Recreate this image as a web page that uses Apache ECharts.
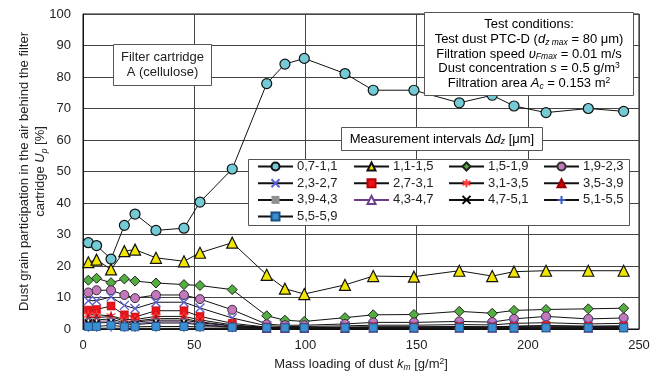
<!DOCTYPE html>
<html>
<head>
<meta charset="utf-8">
<script src="https://cdn.jsdelivr.net/npm/echarts@6/dist/echarts.min.js"></script>
<style>
  html, body { margin: 0; padding: 0; background: #fff; }
  #chart { width: 656px; height: 377px; }
</style>
</head>
<body>
<div id="chart"></div>
<script>
// Mass loading of dust k_m [g/m2] at each measurement
const massLoading = [2.4, 6.1, 12.6, 18.6, 23.4, 32.8, 45.4, 52.6, 67.1, 82.6, 90.8, 99.5, 117.8, 130.5, 148.8, 169.2, 184.0, 193.8, 208.2, 227.2, 243.1];

// Particle size intervals [um]
const intervalNames = ['0,7-1,1', '1,1-1,5', '1,5-1,9', '1,9-2,3', '2,3-2,7', '2,7-3,1', '3,1-3,5', '3,5-3,9', '3,9-4,3', '4,3-4,7', '4,7-5,1', '5,1-5,5', '5,5-5,9'];

// Share U_p [%] of each interval behind the filter
const up_07_11 = [27.4, 26.5, 22.2, 32.9, 36.5, 31.3, 32.0, 40.3, 50.8, 77.9, 84.1, 85.9, 81.1, 75.8, 75.8, 71.8, 74.2, 70.8, 68.7, 70.0, 69.1];
const up_11_15 = [21.2, 22.0, 18.9, 24.7, 25.2, 22.6, 21.5, 24.2, 27.4, 17.2, 12.8, 11.1, 14.0, 16.8, 16.6, 18.5, 16.8, 18.2, 18.5, 18.5, 18.5];
const up_15_19 = [15.5, 16.1, 14.7, 15.9, 15.2, 14.6, 14.1, 13.8, 12.5, 4.2, 2.8, 2.4, 3.6, 4.5, 4.6, 5.6, 5.0, 5.9, 6.2, 6.4, 6.6];
const up_19_23 = [11.6, 12.3, 12.3, 10.8, 9.8, 10.8, 10.8, 9.5, 6.1, 1.5, 1.2, 1.2, 1.6, 2.1, 2.1, 2.4, 2.2, 3.2, 4.0, 3.2, 3.5];
const up_23_27 = [9.0, 9.0, 10.2, 7.5, 6.5, 8.5, 8.5, 6.7, 3.5, 1.0, 0.8, 0.8, 1.0, 1.2, 1.2, 1.4, 1.3, 1.8, 2.0, 1.6, 1.8];
const up_27_31 = [6.0, 6.2, 7.3, 4.5, 3.8, 5.8, 5.8, 4.0, 1.8, 0.6, 0.5, 0.5, 0.6, 0.7, 0.7, 0.8, 0.7, 0.9, 1.1, 0.9, 1.0];
const up_31_35 = [4.5, 4.5, 4.2, 3.0, 3.0, 4.0, 4.0, 2.9, 1.3, 0.5, 0.4, 0.4, 0.5, 0.6, 0.6, 0.7, 0.6, 0.8, 1.0, 0.8, 0.9];
const up_35_39 = [3.6, 3.6, 4.0, 2.4, 2.5, 3.3, 3.3, 2.3, 1.0, 0.4, 0.3, 0.3, 0.4, 0.5, 0.5, 0.5, 0.5, 0.6, 0.7, 0.6, 0.7];
const up_39_43 = [2.9, 2.9, 3.2, 2.0, 2.2, 2.8, 2.8, 2.0, 0.9, 0.3, 0.3, 0.3, 0.3, 0.4, 0.4, 0.4, 0.4, 0.5, 0.6, 0.5, 0.5];
const up_43_47 = [2.4, 2.4, 2.6, 1.6, 1.7, 2.3, 2.3, 1.5, 0.7, 0.2, 0.2, 0.2, 0.2, 0.3, 0.3, 0.3, 0.3, 0.3, 0.4, 0.3, 0.4];
const up_47_51 = [1.9, 1.9, 2.1, 1.3, 1.4, 1.9, 1.9, 1.3, 0.5, 0.2, 0.2, 0.2, 0.2, 0.2, 0.2, 0.2, 0.2, 0.2, 0.3, 0.2, 0.3];
const up_51_55 = [0.2, 0.2, 0.3, 0.2, 0.2, 0.2, 0.2, 0.2, 0.1, 0.1, 0.1, 0.1, 0.1, 0.1, 0.1, 0.1, 0.1, 0.1, 0.1, 0.1, 0.1];
const up_55_59 = [0.8, 0.8, 1.2, 0.7, 0.7, 0.8, 0.8, 0.7, 0.6, 0.4, 0.4, 0.4, 0.4, 0.4, 0.4, 0.4, 0.4, 0.4, 0.4, 0.4, 0.4];

const seriesValues = [up_07_11, up_11_15, up_15_19, up_19_23, up_23_27, up_27_31, up_31_35, up_35_39, up_39_43, up_43_47, up_47_51, up_51_55, up_55_59];

const FONT = '"Liberation Sans", Arial, sans-serif';

// Stroked marker shapes
const X_PATH = 'path://M0,0L10,10M10,0L0,10';
const PLUS_PATH = 'path://M5,0L5,10M0,5L10,5';
const STAR_PATH = 'path://M5,0L5,10M0.7,2.5L9.3,7.5M0.7,7.5L9.3,2.5';

// Marker look per interval
const markerStyles = [
  { symbol: 'circle', size: 10, color: '#74cbd5', border: '#111', bw: 1.2 },
  { symbol: 'triangle', size: 11, color: '#f2e500', border: '#111', bw: 1.2 },
  { symbol: 'diamond', size: 10, color: '#52ae3e', border: '#222', bw: 1 },
  { symbol: 'circle', size: 9, color: '#c477bd', border: '#333', bw: 1 },
  { symbol: X_PATH, size: 9, color: 'rgba(0,0,0,0)', border: '#5a62d0', bw: 1.4 },
  { symbol: 'rect', size: 8, color: '#e8141c', border: '#b00', bw: 0.5 },
  { symbol: STAR_PATH, size: 9, color: 'rgba(0,0,0,0)', border: '#ff3b3b', bw: 1.3 },
  { symbol: 'triangle', size: 8, color: '#d40000', border: '#900', bw: 0.5 },
  { symbol: 'rect', size: [8, 3], color: '#909090', border: '#909090', bw: 0 },
  { symbol: 'triangle', size: 8, color: '#ffffff', border: '#6a3d88', bw: 1.2 },
  { symbol: X_PATH, size: 7, color: 'rgba(0,0,0,0)', border: '#000', bw: 1.4 },
  { symbol: PLUS_PATH, size: 7, color: 'rgba(0,0,0,0)', border: '#3a56c8', bw: 1.3 },
  { symbol: 'rect', size: 8, color: '#3b8ed2', border: '#1a4f80', bw: 0.8 }
];
const lineColors = ['#111', '#111', '#111', '#111', '#111', '#111', '#111', '#111', '#111', '#6a3d88', '#111', '#111', '#111'];

const series = intervalNames.map((name, i) => ({
  name: name,
  type: 'line',
  data: massLoading.map((x, j) => [x, seriesValues[i][j]]),
  symbol: markerStyles[i].symbol,
  symbolSize: markerStyles[i].size,
  showAllSymbol: true,
  lineStyle: { color: lineColors[i], width: 1 },
  itemStyle: { color: markerStyles[i].color, borderColor: markerStyles[i].border, borderWidth: markerStyles[i].bw },
  emphasis: { disabled: true },
  z: 2
}));

// Legend laid out in four columns
const legendCols = [[0, 4, 8, 12], [1, 5, 9], [2, 6, 10], [3, 7, 11]];
const legendLeft = [257, 353, 448, 543];
const legends = legendCols.map((col, k) => ({
  orient: 'vertical',
  left: legendLeft[k],
  top: 160,
  padding: 0,
  itemGap: 3.7,
  itemWidth: 35,
  itemHeight: 10,
  z: 30,
  selectedMode: false,
  data: col.map(i => intervalNames[i]),
  textStyle: { fontFamily: FONT, fontSize: 13, color: '#222', padding: [0, 0, 0, -1] }
}));

const richTxt = {
  i: { fontFamily: FONT, fontSize: 13, fontStyle: 'italic', color: '#222' },
  sub: { fontFamily: FONT, fontSize: 8.5, fontStyle: 'italic', color: '#222', verticalAlign: 'bottom', padding: [4, 0, 0, 0] },
  subn: { fontFamily: FONT, fontSize: 8.5, color: '#222', padding: [6, 0, 0, 0] },
  sup: { fontFamily: FONT, fontSize: 8.5, color: '#222', padding: [0, 0, 6, 0] },
  n: { fontFamily: FONT, fontSize: 13, color: '#222' }
};

const chart = echarts.init(document.getElementById('chart'));
chart.setOption({
  animation: false,
  backgroundColor: '#fff',
  grid: { left: 83, right: 17, top: 14, bottom: 46, show: true, borderColor: '#111', borderWidth: 1 },
  xAxis: {
    type: 'value', min: 0, max: 250, interval: 50,
    axisLine: { show: true, lineStyle: { color: '#111', width: 1 } },
    axisTick: { show: false },
    splitLine: { show: true, lineStyle: { color: '#444', width: 1 } },
    axisLabel: { fontFamily: FONT, fontSize: 13, color: '#222', margin: 10 },
    name: '{n|Mass loading of dust }{i|k}{sub|m}{n| [g/m}{sup|2}{n|]}',
    nameLocation: 'middle', nameGap: 28, nameMoveOverlap: false,
    nameTextStyle: { rich: richTxt }
  },
  yAxis: {
    type: 'value', min: 0, max: 100, interval: 10,
    axisLine: { show: true, lineStyle: { color: '#111', width: 1 } },
    axisTick: { show: false },
    splitLine: { show: true, lineStyle: { color: '#444', width: 1 } },
    axisLabel: { fontFamily: FONT, fontSize: 13, color: '#222', margin: 12 },
    name: '{n|Dust grain participation in the air behind the filter}\n{n|cartridge }{i|U}{sub|p}{n| [%]}',
    nameLocation: 'middle', nameGap: 34, nameMoveOverlap: false,
    nameTextStyle: { rich: richTxt, lineHeight: 16.5, align: 'center' }
  },
  legend: legends,
  series: series,
  graphic: [
    { type: 'rect', z: 20, shape: { x: 113.5, y: 44.5, width: 98, height: 41 }, style: { fill: '#fff', stroke: '#555', lineWidth: 1 } },
    { type: 'text', z: 21, x: 162.5, y: 65, style: { text: 'Filter cartridge\nA (cellulose)', font: '13px ' + FONT, fill: '#222', align: 'center', verticalAlign: 'middle', lineHeight: 15.5 } },

    { type: 'rect', z: 20, shape: { x: 424.5, y: 12.5, width: 209, height: 83 }, style: { fill: '#fff', stroke: '#555', lineWidth: 1 } },
    { type: 'text', z: 21, x: 529, y: 54, style: {
        text: '{n|Test conditions:}\n{n|Test dust PTC-D (}{i|d}{sub|z max}{n| = 80 μm)}\n{n|Filtration speed }{i|υ}{sub|Fmax}{n| = 0.01 m/s}\n{n|Dust concentration }{i|s}{n| = 0.5 g/m}{sup|3}\n{n|Filtration area }{i|A}{sub|c}{n| = 0.153 m}{sup|2}',
        rich: richTxt, align: 'center', verticalAlign: 'middle', lineHeight: 14.7, font: '13px ' + FONT } },

    { type: 'rect', z: 20, shape: { x: 341.5, y: 127.5, width: 201, height: 23 }, style: { fill: '#fff', stroke: '#555', lineWidth: 1 } },
    { type: 'text', z: 21, x: 442, y: 139.5, style: {
        text: '{n|Measurement intervals Δ}{i|d}{sub|z}{n| [μm]}',
        rich: richTxt, align: 'center', verticalAlign: 'middle', font: '13px ' + FONT } },

    { type: 'rect', z: 20, shape: { x: 248.5, y: 159.5, width: 381, height: 66 }, style: { fill: '#fff', stroke: '#555', lineWidth: 1 } }
  ]
});
</script>
</body>
</html>
